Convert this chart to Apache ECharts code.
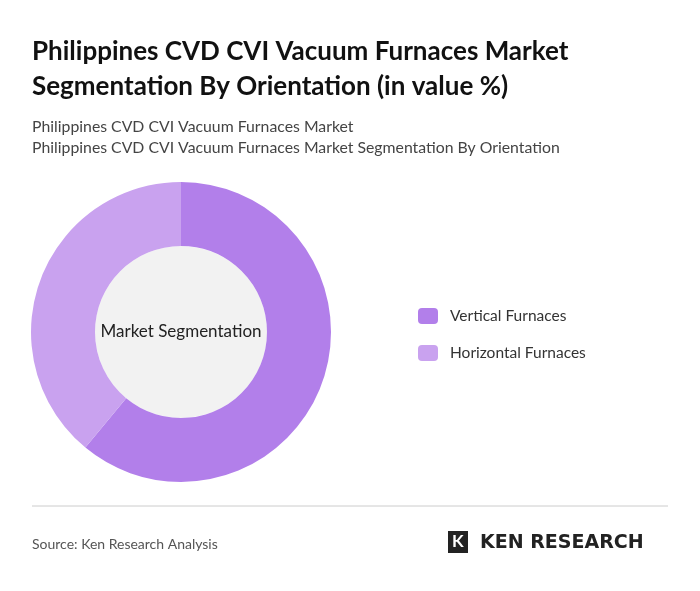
<!DOCTYPE html>
<html><head><meta charset="utf-8">
<script src="https://cdn.jsdelivr.net/npm/echarts@6/dist/echarts.min.js"></script>
<style>body{margin:0;background:#fff}#c{width:700px;height:591px}</style>
</head><body><div id="c"></div>
<script>
const categories = ["Vertical Furnaces", "Horizontal Furnaces"];
const values = [61, 39];
const colors = ["#b27fea", "#c9a2ef"];
const chart = echarts.init(document.getElementById('c'));
const F = 'Lato, "Noto Sans", sans-serif';
chart.setOption({
  backgroundColor: '#fff',
  title: [
    {text: 'Philippines CVD CVI Vacuum Furnaces Market\nSegmentation By Orientation (in value %)', left: 27, top: 29,
     textStyle: {fontFamily: F, fontSize: 26, fontWeight: 'bold', color: '#111', lineHeight: 35}},
    {text: 'Philippines CVD CVI Vacuum Furnaces Market\nPhilippines CVD CVI Vacuum Furnaces Market Segmentation By Orientation', left: 27, top: 111,
     textStyle: {fontFamily: F, fontSize: 15.8, fontWeight: 'normal', color: '#444', lineHeight: 21}},
    {text: 'Source: Ken Research Analysis', left: 27, top: 532, textStyle: {fontFamily: F, fontSize: 14, fontWeight: 'normal', color: '#555'}},
    {text: 'KEN RESEARCH', left: 475, top: 529, textStyle: {fontFamily: '"DejaVu Sans", sans-serif', fontSize: 19, fontWeight: 'bold', color: '#222'}}
  ],
  graphic: [
    {type: 'line', shape: {x1: 32, y1: 506, x2: 668, y2: 506}, style: {stroke: '#ccc', lineWidth: 1}},
    {type: 'rect', shape: {x: 448, y: 531, width: 20, height: 22}, style: {fill: '#222'}},
    {type: 'text', left: 452, top: 533, style: {text: 'K', fill: '#fff', font: 'bold 17px Lato'}},
    {type: 'circle', shape: {cx: 181, cy: 332, r: 86}, style: {fill: '#f2f2f2'}, z: -1},
    {type: 'text', x: 181, y: 332, style: {text: 'Market Segmentation', align: 'center', verticalAlign: 'middle', font: '17px Lato', fill: '#222'}}
  ],
  legend: {orient: 'vertical', left: 413, top: 303, itemWidth: 20, itemHeight: 16, itemGap: 21,
    icon: 'roundRect', textStyle: {fontFamily: F, fontSize: 15.5, color: '#333', padding: [0, 0, 0, 7]}, data: categories},
  series: [{type: 'pie', center: [181, 332], radius: [86, 150], startAngle: 90, clockwise: true,
    label: {show: false}, labelLine: {show: false}, silent: true,
    data: categories.map((c, i) => ({name: c, value: values[i], itemStyle: {color: colors[i]}}))}]
});
</script></body></html>
